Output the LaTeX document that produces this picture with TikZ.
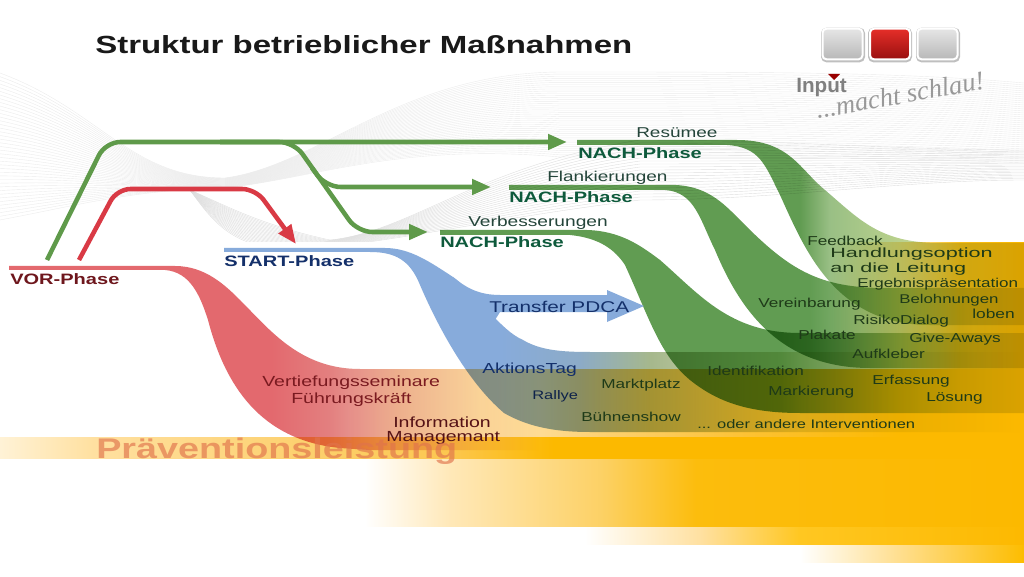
\documentclass[tikz,border=0pt]{standalone}
\usepackage{fontspec}
\setmainfont[FakeStretch=1.33]{Liberation Sans}
\newfontfamily\plainsans{Liberation Sans}
\newfontfamily\handfont{Liberation Serif}
\usetikzlibrary{arrows.meta}
\pgfdeclarehorizontalshading{redfade}{100bp}{rgb(0bp)=(.89,.41,.43); rgb(38.2bp)=(.89,.41,.43); rgb(41.1bp)=(.89,.5,.5); rgb(44.5bp)=(.93,.72,.65); rgb(48.45bp)=(.98,.92,.85); rgb(51.35bp)=(1,1,1); rgb(100bp)=(1,1,1)}
\pgfdeclarehorizontalshading{bluefade}{100bp}{rgb(0bp)=(.53,.67,.86); rgb(49.4bp)=(.53,.67,.86); rgb(53.3bp)=(.55,.67,.78); rgb(56.75bp)=(.65,.72,.55); rgb(64.05bp)=(.88,.9,.75); rgb(75bp)=(1,1,1); rgb(100bp)=(1,1,1)}
\pgfdeclarehorizontalshading{greena}{100bp}{rgb(0bp)=(.38,.61,.32); rgb(64.06bp)=(.38,.61,.32); rgb(65.5bp)=(.6,.75,.52); rgb(68.95bp)=(.73,.82,.55); rgb(71.85bp)=(.83,.87,.7); rgb(75bp)=(.87,.88,.88); rgb(100bp)=(.87,.88,.88)}
\pgfdeclarehorizontalshading{greenb}{100bp}{rgb(0bp)=(.38,.61,.32); rgb(64.5bp)=(.38,.61,.32); rgb(67bp)=(.55,.72,.47); rgb(70bp)=(.73,.82,.55); rgb(72.5bp)=(.83,.87,.7); rgb(75bp)=(.87,.88,.88); rgb(100bp)=(.87,.88,.88)}
\pgfdeclarehorizontalshading{greenc}{100bp}{rgb(0bp)=(.38,.61,.32); rgb(63.1bp)=(.38,.61,.32); rgb(66bp)=(.55,.7,.48); rgb(69bp)=(.73,.82,.55); rgb(72bp)=(.83,.87,.7); rgb(75bp)=(.87,.88,.88); rgb(100bp)=(.87,.88,.88)}
\pgfdeclarehorizontalshading{baseup}{100bp}{rgb(0bp)=(1,1,1); rgb(65.5bp)=(1,1,1); rgb(68.95bp)=(1,.9,.65); rgb(71.85bp)=(.99,.76,.1); rgb(75bp)=(.99,.725,0); rgb(100bp)=(.99,.725,0)}
\pgfdeclarehorizontalshading{baselow}{100bp}{rgb(0bp)=(1,1,1); rgb(42bp)=(1,1,1); rgb(44.5bp)=(1,.96,.85); rgb(48.45bp)=(1,.9,.7); rgb(54.3bp)=(.99,.82,.45); rgb(61.6bp)=(.99,.76,.2); rgb(68.95bp)=(.99,.725,0); rgb(100bp)=(.99,.725,0)}
\pgfdeclarehorizontalshading{bandone}{100bp}{rgb(0bp)=(1,.95,.84); rgb(25bp)=(1,.95,.84); rgb(29.5bp)=(1,.88,.63); rgb(39.5bp)=(.99,.82,.44); rgb(47bp)=(.99,.78,.31); rgb(52bp)=(.99,.725,0); rgb(100bp)=(.99,.725,0)}
\pgfdeclarehorizontalshading{bandtwo}{100bp}{rgb(0bp)=(1,1,1); rgb(42.8bp)=(1,1,1); rgb(47bp)=(1,.91,.72); rgb(54.3bp)=(.99,.82,.4); rgb(59bp)=(.99,.74,.05); rgb(75bp)=(.99,.725,0); rgb(100bp)=(.99,.725,0)}
\pgfdeclarehorizontalshading{bandthree}{100bp}{rgb(0bp)=(1,1,1); rgb(53.55bp)=(1,1,1); rgb(59.2bp)=(1,.88,.63); rgb(64.05bp)=(1,.78,.13); rgb(75bp)=(.99,.725,0); rgb(100bp)=(.99,.725,0)}
\pgfdeclarehorizontalshading{bandfour}{100bp}{rgb(0bp)=(1,1,1); rgb(64.05bp)=(1,1,1); rgb(69bp)=(1,.87,.55); rgb(75bp)=(.99,.74,0); rgb(100bp)=(.99,.74,0)}
\newcommand\ribbon[2]{\begin{scope}[blend mode=multiply]\clip #1; \shade[shading=#2] (0,0) rectangle (1024,577);\end{scope}}
\newcommand\band[3]{\shade[shading=#3] (0,#1) rectangle (1024,#2);}
\definecolor{conngreen}{HTML}{5F9A4A}
\definecolor{connred}{HTML}{D93A45}
\definecolor{darkgr}{HTML}{0E5A3C}
\definecolor{lblgreen}{HTML}{24453A}
\definecolor{lbldark}{HTML}{1E3A18}
\definecolor{lblblue}{HTML}{14306A}
\definecolor{lblred}{HTML}{7A1A20}
\tikzset{
 wave/.style={draw=black!8,line width=.3pt},
 lbl/.style={inner sep=0pt,anchor=west,yshift=-1.1pt,text=lbldark,font=\fontsize{9.7pt}{11pt}\selectfont},
 phase/.style={inner sep=0pt,anchor=west,font=\bfseries\fontsize{11.3pt}{13pt}\selectfont},
 greenarrow/.style={draw=conngreen,line width=3.4pt,rounded corners=11pt,-{Triangle[length=14.25pt,width=11.25pt]}},
 redarrow/.style={draw=connred,line width=3.4pt,rounded corners=10pt,-{Triangle[length=14.25pt,width=11.25pt]}},
 btn/.style={rounded corners=3pt,minimum width=30pt,minimum height=23pt,inner sep=0pt,draw=white,line width=1.5pt},
 btnshadow/.style={rounded corners=4pt,minimum width=33pt,minimum height=26pt,inner sep=0pt,fill=black!25}
}
\begin{document}
\begin{tikzpicture}[x=0.75pt,y=-0.75pt]
\useasboundingbox (0,0) rectangle (1024,577);
% waves
\foreach \t in {0,0.025,...,1.001}{
 \pgfmathsetmacro\ya{73+147*\t}\pgfmathsetmacro\xb{100-20*\t}\pgfmathsetmacro\yb{110+95*\t}\pgfmathsetmacro\yc{178+12*\t}\pgfmathsetmacro\yd{178+10*\t}
 \pgfmathsetmacro\ye{165+12*\t}\pgfmathsetmacro\yf{73+70*\t}\pgfmathsetmacro\yg{72+85*\t}\pgfmathsetmacro\yh{83+80*\t}
 \draw[wave] (0,\ya) .. controls (\xb,\yb) and (130,\yc) .. (225,\yd) .. controls (320,\ye) and (400,\yf) .. (560,\yg) .. controls (760,\yg) and (900,\yg) .. (1024,\yh);
}
\foreach \t in {0,0.05,...,1.001}{
 \pgfmathsetmacro\xb{225-10*\t}\pgfmathsetmacro\yb{205+20*\t}\pgfmathsetmacro\xc{260-25*\t}\pgfmathsetmacro\yc{225+25*\t}
 \pgfmathsetmacro\xd{330-30*\t}\pgfmathsetmacro\yd{240+10*\t}
 \pgfmathsetmacro\ye{232+8*\t}\pgfmathsetmacro\yf{165+55*\t}\pgfmathsetmacro\yg{140+60*\t}\pgfmathsetmacro\yh{150+30*\t}
 \draw[wave,draw=black!13] (190,190) .. controls (\xb,\yb) and (\xc,\yc) .. (\xd,\yd) .. controls (410,\ye) and (480,\yf) .. (640,\yg) .. controls (780,\yg) and (900,\yh) .. (1024,\yh);
}
% yellow fields
\shade[shading=baseup] (0,243) rectangle (1024,369);
\shade[shading=baselow] (0,369) rectangle (1024,437);
\band{437}{459}{bandone}
\band{459}{527}{bandtwo}
\band{527}{545}{bandthree}
\band{545}{562}{bandfour}
% ribbons
\ribbon{(9,266) -- (175,266) .. controls (205,266) and (225,285) .. (240,300) .. controls (270,330) and (300,369) .. (360,369) -- (1024,369) -- (1024,450) -- (370,450) -- (340,448) .. controls (260,440) and (225,385) .. (208,320) .. controls (200,295) and (190,272) .. (165,270) -- (9,270) -- cycle}{redfade}
\ribbon{(224,248) -- (385,248) .. controls (410,248) and (430,262) .. (453,277) .. controls (480,297) and (500,330) .. (523,340) .. controls (540,350) and (560,352) .. (590,352) -- (1024,352) -- (1024,432) -- (590,432) .. controls (550,432) and (525,425) .. (504,413) .. controls (465,380) and (435,320) .. (420,285) .. controls (410,260) and (395,252) .. (370,252) -- (224,252) -- cycle}{bluefade}
\ribbon{(440,230) -- (587,230) .. controls (620,231) and (640,245) .. (660,260) .. controls (700,295) and (730,333) .. (800,333) -- (1024,333) -- (1024,413) -- (800,413) .. controls (745,413) and (715,400) .. (690,380) .. controls (660,355) and (650,320) .. (625,265) .. controls (615,250) and (600,238) .. (570,235) -- (440,235) -- cycle}{greenc}
\ribbon{(509,185) -- (676,185) .. controls (710,187) and (725,205) .. (745,225) .. controls (790,270) and (820,288) .. (885,288) -- (1024,288) -- (1024,368) -- (870,368) .. controls (780,368) and (740,310) .. (715,250) .. controls (700,220) and (695,192) .. (665,190) -- (509,190) -- cycle}{greenb}
\ribbon{(577,140) -- (737,140) .. controls (790,140) and (800,170) .. (825,190) .. controls (860,220) and (880,243) .. (940,243) -- (1024,243) -- (1024,325) -- (930,325) .. controls (835,325) and (805,250) .. (780,195) .. controls (765,165) and (760,147) .. (727,145) -- (577,145) -- cycle}{greena}
% transfer arrow
\fill[fill={rgb,1:red,.53;green,.67;blue,.86}] (453,277) .. controls (465,287) and (478,295) .. (500,295) -- (607,295) -- (607,290) -- (644,306) -- (607,322) -- (607,312) -- (500,312) -- (495,320) -- (470,300) -- cycle;
% connectors
\coordinate (vorA) at (47,260); \coordinate (vorB) at (79,260);
\coordinate (tipA) at (567,142); \coordinate (tipB) at (491,187); \coordinate (tipC) at (428,232); \coordinate (tipD) at (296,244);
\coordinate (kneeA) at (105.5,142); \coordinate (kneeB) at (294,142); \coordinate (kneeC) at (357.5,232); \coordinate (kneeD) at (326,187);
\coordinate (kneeE) at (117,189); \coordinate (kneeF) at (255.6,189); \coordinate (fork) at (312,168); \coordinate (split) at (220,142);
\begin{scope}
\clip (0,0) rectangle (1024,261);
\draw[greenarrow] (vorA) -- (kneeA) -- (tipA);
\draw[greenarrow] (split) -- (kneeB) -- (kneeC) -- (tipC);
\draw[greenarrow] (fork) -- (kneeD) -- (tipB);
\draw[redarrow] (vorB) -- (kneeE) -- (kneeF) -- (tipD);
\end{scope}
% title
\node[inner sep=0pt,anchor=west,text=black!90,font=\bfseries\fontsize{18.6pt}{20pt}\selectfont] (title) at (95,45) {Struktur betrieblicher Maßnahmen};
% logo
\node[btnshadow] (sa) at (843,45) {}; \node[btnshadow] (sb) at (890,45) {}; \node[btnshadow] (sc) at (938,45) {};
\node[btn,top color=black!10,bottom color=black!28] (ba) at (842.5,44) {};
\node[btn,top color={rgb,1:red,.9;green,.18;blue,.16},bottom color={rgb,1:red,.6;green,.06;blue,.06}] (bb) at (890,44) {};
\node[btn,top color=black!10,bottom color=black!28] (bc) at (937.5,44) {};
\node[inner sep=0pt,anchor=west,text=black!50,font=\plainsans\bfseries\fontsize{15.5pt}{18pt}\selectfont] (inp) at (796,88) {Input};
\fill[fill=red!60!black] (828,74) -- (840,74) -- (834,80) -- cycle;
\node[inner sep=0pt,text=black!40,rotate=10,font=\handfont\itshape\fontsize{20pt}{22pt}\selectfont] (slogan) at (900,95) {...macht schlau!};
% phase labels
\node[phase,text=darkgr] (n1) at (578,153) {NACH-Phase};
\node[phase,text=darkgr] (n2) at (509,197) {NACH-Phase};
\node[phase,text=darkgr] (n3) at (440,242) {NACH-Phase};
\node[phase,text=lblblue] (st) at (224,261) {START-Phase};
\node[phase,text=lblred!90!black] (vo) at (10,279) {VOR-Phase};
% labels
\node[lbl,text=lblgreen,font=\fontsize{10.7pt}{12pt}\selectfont] (l1) at (636,131) {Resümee};
\node[lbl,text=lblgreen,font=\fontsize{10.7pt}{12pt}\selectfont] (l2) at (547,176) {Flankierungen};
\node[lbl,text=lblgreen,font=\fontsize{10.8pt}{12pt}\selectfont] (l3) at (468,221) {Verbesserungen};
\node[lbl,text=lblblue,font=\fontsize{11.7pt}{13pt}\selectfont] (l4) at (489,305) {Transfer PDCA};
\node[lbl] (a1) at (807,239) {Feedback};
\node[lbl,xscale=1.22,font=\fontsize{10pt}{12pt}\selectfont] (a2) at (830,253) {Handlungsoption};
\node[lbl,xscale=1.22,font=\fontsize{10pt}{12pt}\selectfont] (a3) at (830,268) {an die Leitung};
\node[lbl,font=\fontsize{9.6pt}{12pt}\selectfont] (a4) at (857,283) {Ergebnispräsentation};
\node[lbl,font=\fontsize{9.5pt}{12pt}\selectfont] (a5) at (899,299) {Belohnungen};
\node[lbl,font=\fontsize{9.8pt}{12pt}\selectfont] (a6) at (972,312) {loben};
\node[lbl] (a7) at (758,303) {Vereinbarung};
\node[lbl] (a8) at (853,320) {RisikoDialog};
\node[lbl] (a9) at (798,333) {Plakate};
\node[lbl] (a10) at (909,338) {Give-Aways};
\node[lbl] (a11) at (852,352) {Aufkleber};
\node[lbl] (a12) at (707,369) {Identifikation};
\node[lbl] (a13) at (768,391) {Markierung};
\node[lbl] (a14) at (872,380) {Erfassung};
\node[lbl] (a15) at (926,397) {Lösung};
\node[lbl,font=\fontsize{9.3pt}{11pt}\selectfont] (a16) at (697,423) {... oder andere Interventionen};
\node[lbl,text=lblblue,font=\fontsize{10.9pt}{12pt}\selectfont] (b1) at (482,368) {AktionsTag};
\node[lbl,text=lblblue!70!black,font=\fontsize{9.3pt}{11pt}\selectfont] (b2) at (532,395) {Rallye};
\node[lbl] (b3) at (601,384) {Marktplatz};
\node[lbl] (b4) at (581,415) {Bühnenshow};
\node[lbl,text=lblred,font=\fontsize{11pt}{13pt}\selectfont] (c1) at (262,381) {Vertiefungsseminare};
\node[lbl,text=lblred,font=\fontsize{11pt}{13pt}\selectfont] (c2) at (291,398) {Führungskräft};
\node[lbl,text=lblred!70!black,font=\fontsize{11pt}{13pt}\selectfont] (c3) at (393,421) {Information};
\node[lbl,text=lblred!70!black,font=\fontsize{11pt}{13pt}\selectfont] (c4) at (386,437) {Managemant};
\node[inner sep=0pt,anchor=west,text={rgb,1:red,.88;green,.45;blue,.3},text opacity=.65,font=\bfseries\fontsize{21.3pt}{23pt}\selectfont] (prae) at (96,451) {Präventionsleistung};
\end{tikzpicture}
\end{document}
